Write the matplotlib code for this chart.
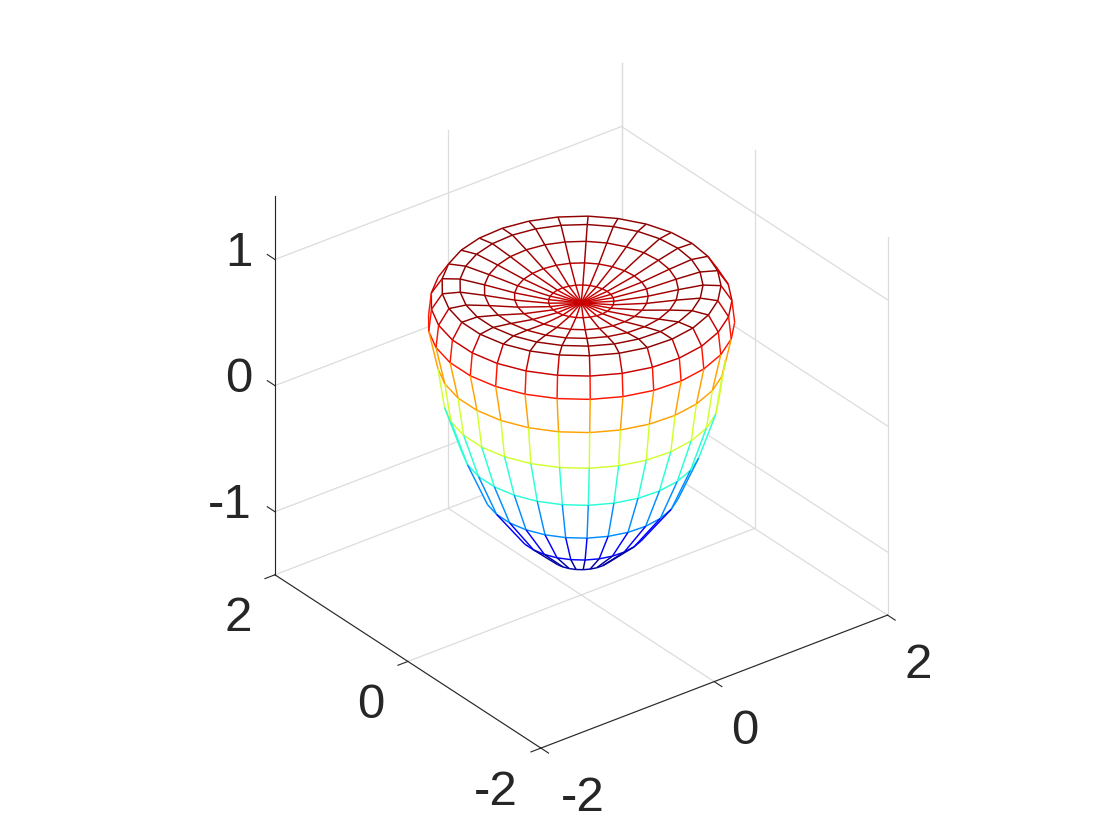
import numpy as np
import matplotlib
matplotlib.use('Agg')
import matplotlib.pyplot as plt
from matplotlib.colors import LinearSegmentedColormap
from mpl_toolkits.mplot3d import proj3d
from mpl_toolkits.mplot3d.art3d import Line3DCollection

plt.rcParams['font.family'] = ['Liberation Sans', 'DejaVu Sans']

# profile of the surface of revolution (top pole to bottom pole)
ring_radius = [0.0, 0.30, 0.613, 0.89, 1.115, 1.28, 1.38, 1.405, 1.32, 1.26, 1.10, 0.906, 0.604, 0.30, 0.0]
ring_height = [0.816, 0.828, 0.868, 0.919, 0.955, 0.95, 0.832, 0.658, 0.358, 0.049, -0.314, -0.658, -0.962, -1.17, -1.294]
n_theta = 30
color_lim = (-1.25, 0.99)

xy_ticks = [-2, 0, 2]
z_ticks = [-1, 0, 1]
x_lim = (-2, 2)
y_lim = (-2, 2)
z_lim = (-1.5, 1.5)

text_color = '#262626'
grid_color = '#dcdcdc'
tick_len = 0.115

radius = np.array(ring_radius)
height = np.array(ring_height)
theta = np.linspace(0, 2 * np.pi, n_theta)
X = np.outer(radius, np.cos(theta))
Y = np.outer(radius, np.sin(theta))
Z = np.outer(height, np.ones(n_theta))

fig = plt.figure(figsize=(11.2, 8.4), dpi=100, facecolor='white')
S = 734.6
ax = fig.add_axes([(571.3 - S / 2) / 1120, (424.3 - S / 2) / 840, S / 1120, S / 840],
                  projection='3d', proj_type='ortho', computed_zorder=False)
ax.set_axis_off()
ax.view_init(elev=30, azim=-127.5)
ax.set_box_aspect((1, 1, 1))

# white faces hide the grid behind the mesh
ax.plot_surface(X, Y, Z, color='white', shade=False, linewidth=0, rstride=1, cstride=1,
                antialiased=False, zorder=2)

# which quads look at the camera (box coordinates, since the box is stretched)
el = np.radians(30)
az = np.radians(-127.5)
cam = np.array([np.cos(el) * np.cos(az), np.cos(el) * np.sin(az), np.sin(el)])
P = np.stack([X / 4, Y / 4, Z / 3], axis=-1)
normals = np.cross(P[1:, 1:] - P[:-1, :-1], P[:-1, 1:] - P[1:, :-1])
visible = (normals @ cam) > 0

# MATLAB flavour of jet, the matplotlib one has slightly different knots
cmap = LinearSegmentedColormap.from_list('matlab_jet', [
    (0, (0, 0, 0.5)), (0.125, (0, 0, 1)), (0.375, (0, 1, 1)),
    (0.625, (1, 1, 0)), (0.875, (1, 0, 0)), (1, (0.5, 0, 0))])
norm = plt.Normalize(color_lim[0], color_lim[1], clip=True)

segs = []
cols = []
n_rings = len(radius)
for i in range(n_rings):
    for j in range(n_theta - 1):
        show = False
        if i > 0 and visible[i - 1, j]:
            show = True
        if i < n_rings - 1 and visible[i, j]:
            show = True
        if show and radius[i] > 0:
            segs.append([(X[i, j], Y[i, j], Z[i, j]), (X[i, j + 1], Y[i, j + 1], Z[i, j + 1])])
            cols.append(cmap(norm(height[i])))
for i in range(n_rings - 1):
    for j in range(n_theta - 1):
        if visible[i, j] or visible[i, j - 1]:
            segs.append([(X[i, j], Y[i, j], Z[i, j]), (X[i + 1, j], Y[i + 1, j], Z[i + 1, j])])
            cols.append(cmap(norm(height[i + 1])))
ax.add_collection3d(Line3DCollection(segs, colors=cols, linewidths=1.05, zorder=3))

# grid on the floor and the two back walls
for t in xy_ticks:
    ax.plot([t, t], y_lim, [z_lim[0]] * 2, color=grid_color, lw=0.9, zorder=1)
    ax.plot(x_lim, [t, t], [z_lim[0]] * 2, color=grid_color, lw=0.9, zorder=1)
    ax.plot([t, t], [y_lim[1]] * 2, z_lim, color=grid_color, lw=0.9, zorder=1)
    ax.plot([x_lim[1]] * 2, [t, t], z_lim, color=grid_color, lw=0.9, zorder=1)
for t in z_ticks:
    ax.plot(x_lim, [y_lim[1]] * 2, [t, t], color=grid_color, lw=0.9, zorder=1)
    ax.plot([x_lim[1]] * 2, y_lim, [t, t], color=grid_color, lw=0.9, zorder=1)

# axis lines and ticks
line_kw = dict(color=text_color, lw=0.8, zorder=4)
ax.plot(x_lim, [y_lim[0]] * 2, [z_lim[0]] * 2, **line_kw)
ax.plot([x_lim[0]] * 2, y_lim, [z_lim[0]] * 2, **line_kw)
ax.plot([x_lim[0]] * 2, [y_lim[1]] * 2, z_lim, **line_kw)
for t in xy_ticks:
    ax.plot([t, t], [y_lim[0], y_lim[0] - tick_len], [z_lim[0]] * 2, **line_kw)
    ax.plot([x_lim[0], x_lim[0] - tick_len], [t, t], [z_lim[0]] * 2, **line_kw)
for t in z_ticks:
    ax.plot([x_lim[0]] * 2, [y_lim[1], y_lim[1] + tick_len], [t, t], **line_kw)

ax.set_xlim(x_lim, view_margin=0)
ax.set_ylim(y_lim, view_margin=0)
ax.set_zlim(z_lim, view_margin=0)


def tick_label(x, y, z, label, dx, dy):
    px, py, _ = proj3d.proj_transform(x, y, z, ax.get_proj())
    ax.annotate(label, (px, py), xytext=(dx, dy), textcoords='offset pixels', ha='center',
                va='center', fontsize=35.5, color=text_color, annotation_clip=False)


# labels sit at a fixed pixel offset from their tick
for t in xy_ticks:
    tick_label(t, y_lim[0], z_lim[0], str(t), 42 if t < 0 else 31, -50)
    tick_label(x_lim[0], t, z_lim[0], str(t), -45 if t < 0 else -37, -44)
for t in z_ticks:
    tick_label(x_lim[0], y_lim[1], t, str(t), -36 if t >= 0 else -45, 6)

fig.savefig('out.png', dpi=100)
